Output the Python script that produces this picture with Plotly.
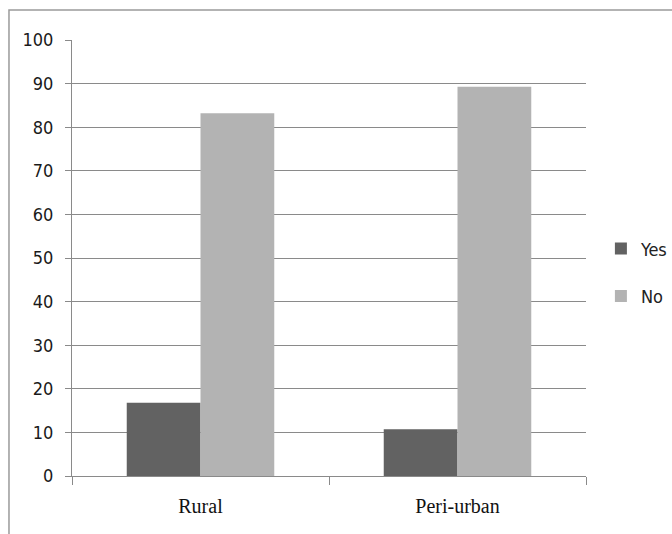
import plotly.graph_objects as go

categories = ["Rural", "Peri-urban"]
yes_values = [16.8, 10.7]
no_values = [83.2, 89.3]
y_ticks = [0, 10, 20, 30, 40, 50, 60, 70, 80, 90, 100]

fig = go.Figure()
fig.add_trace(go.Bar(name="Yes", x=categories, y=yes_values, marker_color="#626262",
                     marker_line_width=0, legendgroup="a"))
fig.add_trace(go.Bar(name="No", x=categories, y=no_values, marker_color="#b3b3b3",
                     marker_line_width=0, legendgroup="b"))

fig.update_layout(
    width=672, height=534,
    margin=dict(l=72, r=86, t=40, b=58, autoexpand=False),
    paper_bgcolor="white", plot_bgcolor="white",
    barmode="group", bargap=0.426, bargroupgap=0,
    showlegend=True,
    legend=dict(x=1.029, y=0.467, xanchor="left", yanchor="middle",
                font=dict(family="DejaVu Sans Condensed", size=18, color="#222"),
                tracegroupgap=21, itemwidth=30, bgcolor="rgba(0,0,0,0)"),
    font=dict(family="DejaVu Sans Condensed", size=18, color="#222"),
)
fig.update_yaxes(range=[0, 100], tickvals=y_ticks, showgrid=True, gridcolor="#8a8a8a",
                 gridwidth=1, showline=True, linecolor="#8a8a8a", linewidth=1,
                 ticks="outside", ticklen=6, tickcolor="#8a8a8a", zeroline=False,
                 ticklabelstandoff=8,
                 tickfont=dict(family="DejaVu Sans Condensed", size=18, color="#1a1a1a"))
fig.update_xaxes(showline=True, linecolor="#8a8a8a", linewidth=1, ticks="outside",
                 tickson="boundaries", ticklen=8, tickcolor="#8a8a8a",
                 ticklabelstandoff=12,
                 tickfont=dict(family="Liberation Serif", size=20, color="#111"))

fig.add_shape(type="rect", xref="paper", yref="paper", x0=-0.1226, x1=1.3, y0=-0.3,
              y1=1.069, line=dict(color="#9a9a9a", width=1.5), fillcolor="rgba(0,0,0,0)",
              layer="below")

fig.write_html("out.html", config={"displayModeBar": False},
               post_script="document.body.style.margin='0';")
